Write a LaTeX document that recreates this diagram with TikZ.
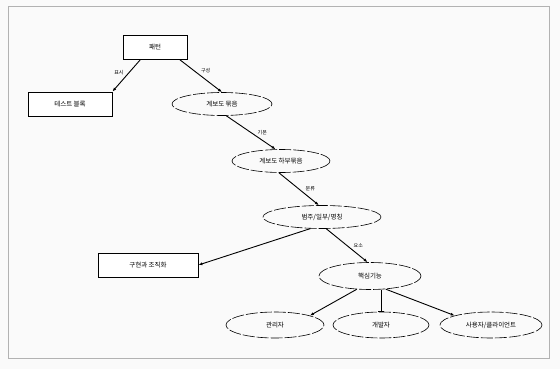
\documentclass[tikz,border=0pt]{standalone}
\usepackage{fontspec}
\newfontfamily\kr{Noto Sans CJK KR}
\usetikzlibrary{shapes.geometric,arrows.meta}
\begin{document}
\begin{tikzpicture}[x=1pt,y=-1pt,
  every node/.style={font=\kr\fontsize{6.5}{7.5}\selectfont},
  boxn/.style={draw, line width=0.9pt, minimum width=#1, minimum height=24pt, inner sep=0pt},
  elln/.style={draw, ellipse, line width=0.6pt, dash pattern=on 12pt off 2pt, minimum width=#1, minimum height=23pt, inner sep=0pt},
  conn/.style={draw, line width=0.9pt, -{Latex[length=4pt,width=3pt]}},
  lab/.style={font=\kr\fontsize{5}{6}\selectfont}]
\useasboundingbox (0,0) rectangle (560,369);
\fill[white!96!gray] (0,0) rectangle (560,369);
\draw[gray!60, line width=0.8pt] (8,6) rectangle (549,358);
\node[boxn=64pt, fill=white] (a) at (155,47) {패턴};
\node[boxn=84pt, fill=white] (b) at (70,104) {테스트 블록};
\node[elln=100pt] (c) at (222,104) {계보도 묶음};
\node[elln=98pt] (d) at (281,161) {계보도 하부묶음};
\node[elln=118pt] (e) at (322,217) {범주/일부/명칭};
\node[boxn=100pt, fill=white] (f) at (148,265) {구현과 조직화};
\node[elln=102pt, minimum height=27pt] (g) at (370,276) {핵심기능};
\node[elln=98pt, minimum height=26pt] (h) at (275,325) {관리자};
\node[elln=96pt, minimum height=26pt] (i) at (381,325) {개발자};
\node[elln=102pt, minimum height=26pt] (j) at (491,325) {사용자/클라이언트};
\draw[conn] (a.south west)+(18,0) -- (b.north east) node[lab, pos=0.4, left=2pt] {표시};
\draw[conn] (a.south east)+(-8,0) -- (c.north) node[lab, pos=0.35, right=3pt] {구성};
\draw[conn] (c.-70) -- (d.115) node[lab, pos=0.5, right=3pt] {기본};
\draw[conn] (d.-100) -- (e.105) node[lab, pos=0.5, right=3pt] {분류};
\draw[conn] (e.-135) -- (f.east);
\draw[conn] (e.-70) -- (g.100) node[lab, pos=0.5, right=3pt] {요소};
\draw[conn] (g.-135) -- (h.north east);
\draw[draw, line width=0.9pt, -{Bar[width=6pt]}] (g.south -| i.north) -- (i.north);
\draw[conn] (g.-40) -- (j.north west);
\end{tikzpicture}
\end{document}
